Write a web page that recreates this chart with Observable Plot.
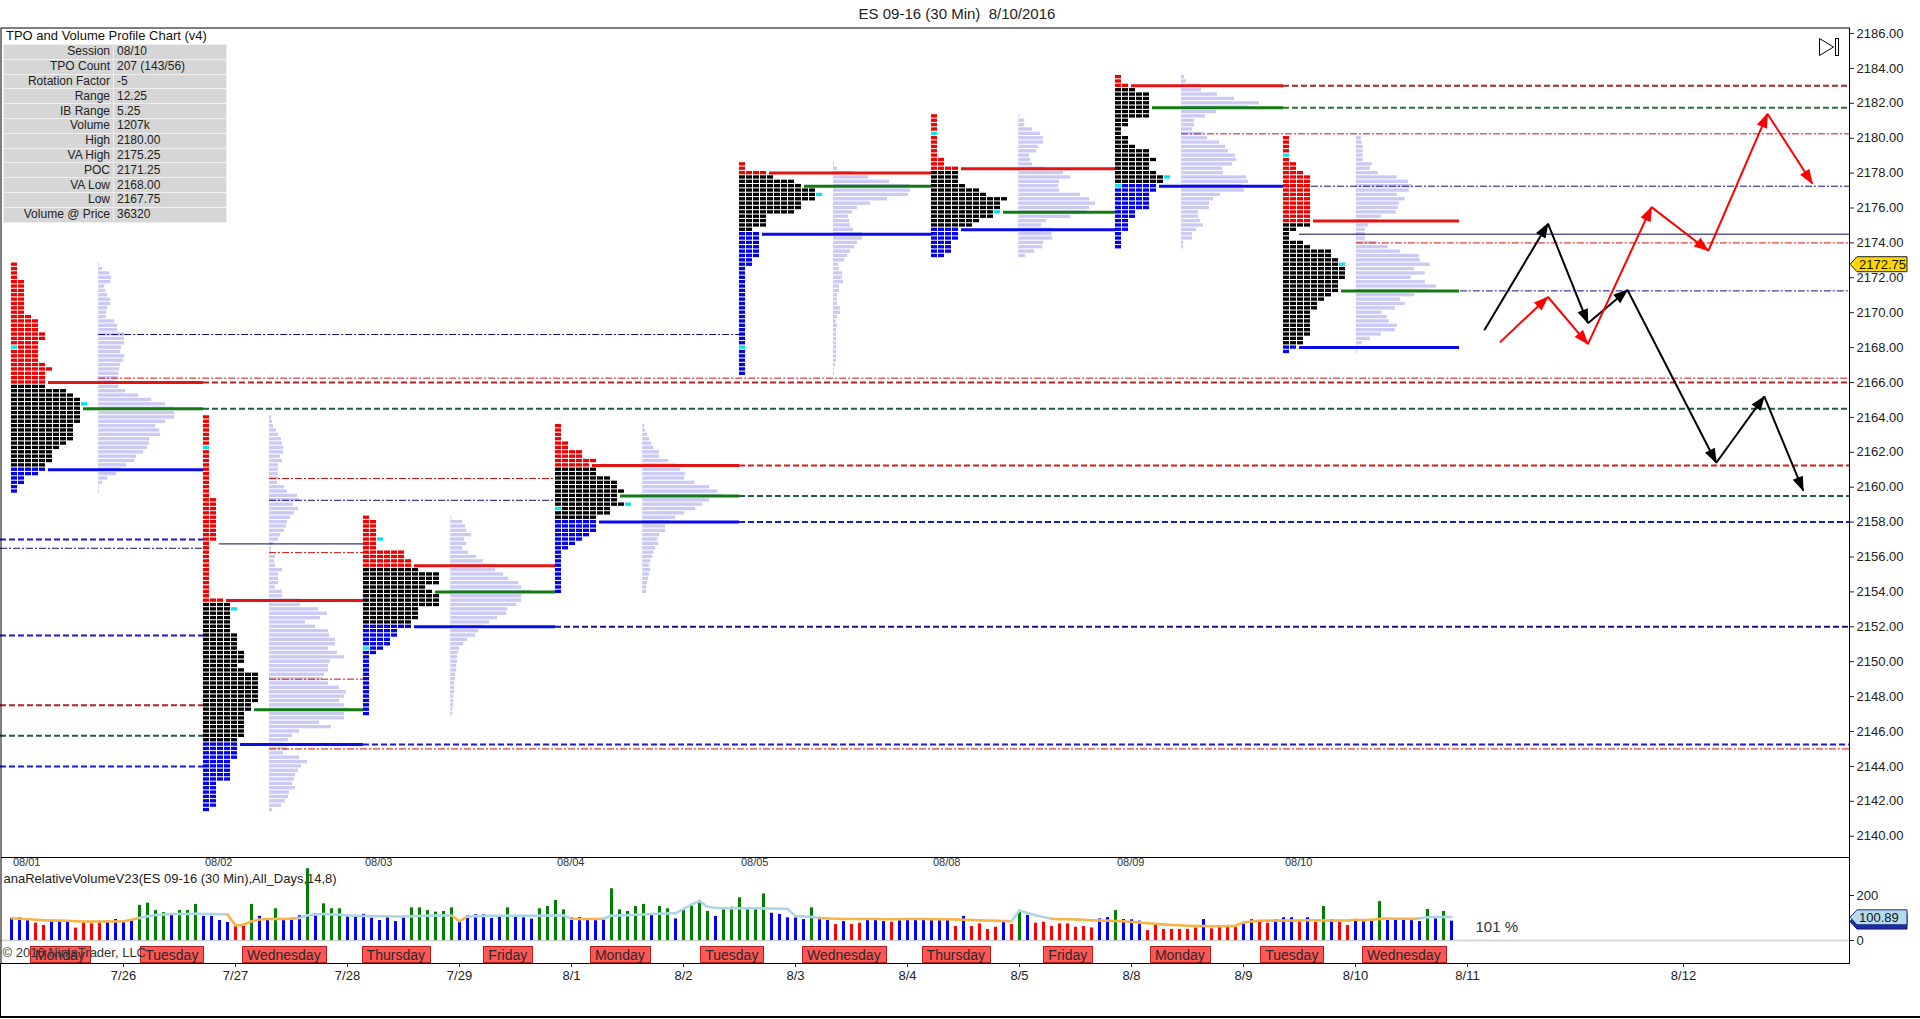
<!DOCTYPE html>
<html>
<head>
<meta charset="utf-8">
<title>ES 09-16 (30 Min) TPO and Volume Profile</title>
<script src="https://cdn.jsdelivr.net/npm/d3@7"></script>
<script src="https://cdn.jsdelivr.net/npm/@observablehq/plot@0.6"></script>
<style>
  html, body { margin: 0; padding: 0; background: #fff; }
  #wrap { position: relative; width: 1920px; height: 1019px; overflow: hidden; background: #fff;
          font-family: "Liberation Sans", Arial, sans-serif; }
  #title { position: absolute; left: 0; top: 5px; width: 1914px; text-align: center; font-size: 15px; color: #222; white-space: pre; }
  #main { position: absolute; left: 0; top: 27px; }
  #vol { position: absolute; left: 0; top: 857px; }
  #tblTitle { position: absolute; left: 6px; top: 28px; font-size: 13px; line-height: 15px; color: #111; white-space: nowrap; }
  #info { position: absolute; left: 3px; top: 44px; border-collapse: collapse; font-size: 12px; color: #222;
          background: #d6d6d6; border: 1px solid #9a9a9a; }
  #info tr { height: 14.8px; }
  #info td { padding: 0 3px; border: 1px solid #efefef; line-height: 13px; white-space: nowrap; }
  #info td.k { text-align: right; width: 103px; }
  #info td.v { text-align: left; width: 106px; }
  #leftEdge { position: absolute; left: 0; top: 963px; width: 1px; height: 55px; background: #000; }
  #bottomEdge { position: absolute; left: 0; top: 1016px; width: 1920px; height: 2px; background: #000; }
  #icon { position: absolute; left: 1817px; top: 36px; }
</style>
</head>
<body>
<div id="wrap">
  <div id="title"></div>
  <div id="main"></div>
  <div id="vol"></div>
  <div id="tblTitle"></div>
  <table id="info"></table>
  <svg id="icon" width="24" height="22"><path d="M2.5,2.5 L16.5,11 L2.5,19.5 Z" fill="none" stroke="#000"/><rect x="18.5" y="2.5" width="3" height="17" fill="none" stroke="#000"/></svg>
  <div id="leftEdge"></div>
  <div id="bottomEdge"></div>
</div>
<script>
// ======================= DATA =======================
const chartTitle = "ES 09-16 (30 Min)  8/10/2016";
const tableTitle = "TPO and Volume Profile Chart (v4)";
const tableLabels = ["Session", "TPO Count", "Rotation Factor", "Range", "IB Range", "Volume", "High", "VA High", "POC", "VA Low", "Low", "Volume @ Price"];
const tableValues = ["08/10", "207 (143/56)", "-5", "12.25", "5.25", "1207k", "2180.00", "2175.25", "2171.25", "2168.00", "2167.75", "36320"];

const priceTicks = d3.range(2140, 2186.01, 2);
const tickSize = 0.25;
const lastPrice = 2172.75;

// profile sessions (x in 30-min bar units)
const profileDates = ["08/01", "08/02", "08/03", "08/04", "08/05", "08/08", "08/09", "08/10"];
const profileStart = [0, 24, 44, 68, 91, 115, 138, 159];
const profileEnd   = [24, 44, 68, 91, 115, 138, 159, 181];
const volumeStart  = [10.9, 32.25, 54.9, 78.9, 102.75, 125.9, 146.25, 168.1];
const profileHigh  = [2172.75, 2164, 2158.25, 2163.5, 2178.5, 2181.25, 2183.5, 2180];
const vah          = [2166, 2153.5, 2155.5, 2161.25, 2178, 2178.25, 2183, 2175.25];
const poc          = [2164.5, 2147.25, 2154, 2159.5, 2177.25, 2175.75, 2181.75, 2171.25];
const val          = [2161, 2145.25, 2152, 2158, 2174.5, 2174.75, 2177.25, 2168];
const openPrice    = [2168, 2162.25, 2150.75, 2158.75, 2168, 2180.25, 2177.25, 2179];
const closePrice   = [2164.75, 2153, 2157, 2159, 2176.75, 2175.75, 2177.75, 2172.75];

// TPO letters per price row (top to bottom, 0.25 steps)
const tpo1 = [1,1,1,1, 2,2,2,2,2,2,2,2, 3, 4,4,4, 5,5, 4,4,4,4,4, 5, 6, 5,5,5,5, 8, 9, 10,10,10,10,10,10, 9,9,9,9, 8, 7, 6,6,6, 5,5, 4, 2,2, 1,1];
const tpo2 = [1,1,1,1,1,1,1,1,1,1,1,1,1,1,1,1,1,1,1, 2,2,2,2,2,2,2,2,2,2, 1,1,1,1,1,1,1,1,1,1,1,1,1, 3, 4, 4, 4,4,4,4,4, 5,5,5,5, 6,6,6, 5, 6, 8,8,8,8,8,8,8, 7,7, 6,6,6,6,6,6, 5, 5,5,5,5, 4,4,4,4,4, 2,2,2,2,2,2, 1];
const tpo3 = [1, 2,2,2,2,2,2,2, 6,6, 7,7, 8, 11,11,11, 9, 10, 11,11,11, 8,8,8, 7,7, 5,5, 4,4, 3, 2, 1,1,1,1,1,1,1,1,1,1,1,1,1,1];
const tpo4 = [1,1,1,1, 2,2, 4,4, 6, 5, 6,6, 8, 9,9, 10, 9,9, 10, 8, 8, 6, 6,6,6, 5, 4, 3, 2, 1,1,1,1,1,1,1,1,1,1];
const tpo5 = [1,1, 4, 5, 8, 9, 11, 11, 11, 9,9, 8, 4,4,4, 2, 3,3,3,3,3,3, 2,2, 1,1,1,1,1,1,1,1,1,1,1,1,1,1,1,1,1,1,1,1,1,1,1,1,1];
const tpo6 = [1,1,1,1,1,1,1,1,1,1, 2,2, 4, 4,4,4, 5, 7, 8, 11, 10,10, 9, 9, 7, 6, 4,4,4, 3,3,3, 2];
const tpo7 = [1,1, 2, 3, 5,5,5,5,5,5, 2,2, 1,1, 2,2, 3, 5,5, 6, 5,5, 6, 7, 7, 6, 6, 5,5,5,5, 3,3, 2,2,2, 1,1,1,1];
const tpo8 = [1,1,1,1,1,1, 2,2, 3, 4,4,4,4,4,4,4,4,4,4,4, 4, 2, 1,1, 3, 4, 7,7, 8, 8, 9,9,9, 8,8,8, 7, 6, 5,5, 4,4,4,4,4,4, 3,3, 2, 1];

// volume at price per row (relative units)
const vap1 = [1,4,11,13,12,6,7,9,12,12, 9,8,8,16,19,19,26,26,26,23, 22,26,25,22,21,20,19,17,20,27, 40,53,67,76,76,76,67,57,61,62, 51,51,49,45,38,36,28,22,18,9, 4,1,1];
const vap2 = [2,3,4,7,9,12,13,14,14,11, 13,9,9,9,9,8,15,18,28,30, 24,29,25,21,18,17,15,11,9,4, 2,2,6,5,6,13,9,9,9,6, 13,13,31,31,49,58,51,36,46,59, 60,66,66,59,68,75,61,59,59,55, 53,59,70,77,75,70,75,79,75,75, 50,62,30,23,19,15,18,14,30,38, 32,29,26,25,23,26,20,19,16,12, 3];
const vap3 = [1,12,15,16,21,14,16,12,18,26, 33,45,45,53,58,68,71,80,71,71, 66,57,56,47,39,33,28,25,17,13, 9,8,7,7,6,6,5,5,4,4, 4,3,3,3,2,2];
const vap4 = [2,3,5,7,9,11,17,17,26,33, 38,43,42,52,67,75,80,67,60,53, 42,33,28,23,23,17,15,16,13,11, 10,8,7,8,7,6,5,4,4];
const vap5 = [1,4,20,35,56,77,77,75,54,37, 24,19,15,16,17,20,29,29,24,21, 17,14,11,5,6,9,9,10,6,6, 4,4,4,7,7,4,3,4,3,3, 3,3,3,3,3,3,2,1,1];
const vap6 = [1,6,6,14,22,25,25,20,18,11, 12,14,27,45,52,41,40,41,62,71, 77,71,68,52,28,23,35,33,34,25, 24,16,7];
const vap7 = [3,5,19,20,36,53,78,67,35,24, 13,13,11,22,26,38,44,47,54,55, 51,41,42,65,67,60,63,39,32,28, 28,17,17,19,22,15,11,11,2,2];
const vap8 = [5,6,7,7,7,7,16,14,22,41, 52,56,53,41,49,43,42,40,25,22, 12,9,9,9,21,32,44,63,64,74, 58,69,55,69,80,73,58,44,49,39, 26,31,33,41,39,25,14,6,3,1];

// horizontal reference levels: price, from bar (null = left edge), to bar (null = right edge), kind
const dashedLevels = [2183, 2181.75, 2166, 2164.5, 2161.25, 2159.5, 2158, 2152, 2145.25, 2157, 2151.5, 2147.5, 2145.75, 2144];
const dashedFrom   = [159, 159, 24, 24, 91, 91, 91, 68, 44, null, null, null, null, null];
const dashedTo     = [null, null, null, null, null, null, null, null, null, 24, 24, 24, 24, 24];
const dashedKind   = ["vahOld", "pocG", "vahOld", "poc", "vah", "poc", "val", "valN", "val", "val", "val", "vahOld", "poc", "val"];

const dashDotLevels = [2180.25, 2177.25, 2174, 2171.25, 2168.75, 2166.25, 2160.5, 2159.25, 2156.5, 2156.25, 2149, 2145];
const dashDotFrom   = [146.25, 146.25, 168.1, 168.1, 10.9, 10.9, 32.25, 32.25, null, 32.25, 32.25, 32.25];
const dashDotTo     = [null, null, null, null, 91, null, 68, 68, 24, 44, 44, null];
const dashDotKind   = ["r", "n", "r", "n", "n", "r", "r", "n", "n", "r", "r", "r"];

const thinLevels = [2156.75, 2174.5];
const thinFrom   = [26, 161];
const thinTo     = [44, null];

// projected paths (bar, price)
const blackPath = [[184.1, 2169.0], [192.06, 2175.1], [197.05, 2169.4], [202, 2171.3], [213.1, 2161.4], [219.1, 2165.2], [223.96, 2159.8]];
const redPath   = [[186.05, 2168.3], [192.06, 2170.9], [197.05, 2168.2], [205, 2176.05], [212.1, 2173.55], [219.5, 2181.4], [225.1, 2177.4]];

// relative volume indicator, 14 bars per session
const indicatorTitle = "anaRelativeVolumeV23(ES 09-16 (30 Min),All_Days,14,8)";
const relVolDays = [
  [99,101,95,77,67,87,87,84,55,77,74,77,86,93],
  [86,87,156,166,133,124,113,133,133,160,107,107,89,80],
  [70,70,160,107,92,141,93,99,110,319,120,163,141,141],
  [107,107,116,99,89,107,84,107,145,145,133,126,129,145],
  [84,110,114,114,98,110,145,110,101,95,141,151,178,136],
  [102,102,95,95,95,230,136,129,151,160,116,151,141,96],
  [136,160,178,129,107,139,148,190,139,139,207,121,116,101],
  [101,93,145,93,89,71,84,71,77,89,89,84,81,96],
  [89,96,96,96,96,96,62,107,62,74,49,59,81,71],
  [133,111,77,81,62,74,74,59,62,56,96,102,133,93],
  [92,86,44,67,49,49,49,49,56,93,52,59,62,62],
  [81,92,81,77,93,101,101,81,101,81,151,93,81,67],
  [89,86,86,173,89,89,93,96,84,138,96,129,86]
];
const barColorDays = [
  "bbbrrbbbrrrrbb", "bbggggbgggbbbb", "rrgbbgbbbgbggg", "bbbbbbbbgggggg", "bbbbbbgbbbgggg",
  "bbbbbgggggbggb", "ggggbggggggbbb", "bbgbbrbrrbbbrb", "bbbbbbrbrrrrbr", "gbrrrrrrrrbbgb",
  "bbrrrrrrrbrrrr", "bbrrbbbrbrgbrr", "bbbgbbbbbgbgb"
];
const avgDays = [
  [99,97,95,92,90,89,89,88,86,85,84,84,84,85],
  [86,92,100,108,113,116,118,118,118,119,118,118,117,116],
  [67,70,85,93,96,96,96,97,100,112,116,118,116,114],
  [111,110,109,108,108,108,107,107,108,109,110,111,111,111],
  [86,106,108,109,110,110,110,110,110,110,110,111,111,111],
  [97,96,96,96,97,110,111,112,114,116,118,119,120,121],
  [140,160,175,150,145,143,143,143,143,143,142,142,141,141],
  [108,108,104,100,98,97,96,96,96,96,96,95,95,94],
  [96,96,96,95,95,95,93,92,91,90,89,88,87,86],
  [133,122,112,104,97,95,94,93,92,90,89,88,87,86],
  [82,80,77,74,71,69,68,66,65,64,63,63,64,65],
  [80,84,88,89,89,89,89,89,90,90,89,89,89,89],
  [92,90,92,96,98,97,97,96,99,103,104,104,104]
];
const lastRelVol = 100.89;
const prevRelVol = 82;
const relVolPctLabel = "101 %";
const dayNames = ["Monday", "Tuesday", "Wednesday", "Thursday", "Friday", "Monday", "Tuesday", "Wednesday", "Thursday", "Friday", "Monday", "Tuesday", "Wednesday"];
const dateLabels = ["7/26", "7/27", "7/28", "7/29", "8/1", "8/2", "8/3", "8/4", "8/5", "8/8", "8/9", "8/10", "8/11", "8/12"];
const dateTickBars = [14, 28, 42, 56, 70, 84, 98, 112, 126, 140, 154, 168, 182, 209];
const volTicks = [0, 200];
const copyright = "\u00a9 2016 NinjaTrader, LLC";

// ======================= LAYOUT / STYLE =======================
const W = 1920, MR = 71;
const barsPerDay = 14;
const xMin = -1.375, xMax = 229.75;
const yMin = 2138.779, yMax = 2186.344;
const vMin = -102.2, vMax = 368.9;
const colW = 0.875, sqW = 0.75, halfRow = 0.095;
const C = {red: "#f20000", black: "#000000", blue: "#0000f0", cyan: "#00e6ea", vap: "#cacaf4"};
const font = "Liberation Sans, Arial, sans-serif";

document.getElementById("title").textContent = chartTitle;
document.getElementById("tblTitle").textContent = tableTitle;
const tbl = document.getElementById("info");
tableLabels.forEach((k, i) => {
  const tr = tbl.insertRow();
  const a = tr.insertCell(); a.className = "k"; a.textContent = k;
  const b = tr.insertCell(); b.className = "v"; b.textContent = tableValues[i];
});

// ======================= BUILD MARK DATA =======================
const tpoCounts = [tpo1, tpo2, tpo3, tpo4, tpo5, tpo6, tpo7, tpo8];
const vaps = [vap1, vap2, vap3, vap4, vap5, vap6, vap7, vap8];
const eq = (a, b) => Math.abs(a - b) < 1e-6;

const tpoCells = [], volCells = [], solidSegs = [];
tpoCounts.forEach((counts, k) => {
  const L = profileStart[k];
  counts.forEach((n, r) => {
    const p = profileHigh[k] - r * tickSize;
    const base = p >= vah[k] - 1e-6 ? C.red : p <= val[k] + 1e-6 ? C.blue : C.black;
    for (let j = 0; j < n; j++) {
      const fill = (j === 0 && eq(p, openPrice[k])) ? C.cyan : base;
      tpoCells.push({x1: L + j * colW, x2: L + j * colW + sqW, y1: p - halfRow, y2: p + halfRow, fill});
    }
    if (eq(p, closePrice[k])) {
      tpoCells.push({x1: L + n * colW, x2: L + n * colW + sqW, y1: p - halfRow, y2: p + halfRow, fill: C.cyan});
    }
    const v = vaps[k][r];
    volCells.push({x1: volumeStart[k], x2: volumeStart[k] + v / 8, y1: p - halfRow, y2: p + halfRow});
  });
  [[vah[k], "#e31414"], [poc[k], "#137a13"], [val[k], "#0c0ce8"]].forEach(([level, stroke]) => {
    const r = Math.round((profileHigh[k] - level) / tickSize);
    const n = counts[r] + (eq(closePrice[k], level) ? 1 : 0);
    solidSegs.push({y: level, x1: L + n * colW + 0.25, x2: profileEnd[k], stroke});
  });
});

const dashedColor = {vahOld: "#b3222a", vah: "#dd1818", poc: "#1f5c4c", pocG: "#2e6e2e", val: "#1c1cd0", valN: "#14148c"};
const dashed = dashedLevels.map((y, i) => ({y, x1: dashedFrom[i] ?? xMin, x2: dashedTo[i] ?? xMax, stroke: dashedColor[dashedKind[i]]}));
const dashDot = dashDotLevels.map((y, i) => ({y, x1: dashDotFrom[i] ?? xMin, x2: dashDotTo[i] ?? xMax, stroke: dashDotKind[i] === "r" ? "#d01010" : "#10107a"}));
const thin = thinLevels.map((y, i) => ({y, x1: thinFrom[i] ?? xMin, x2: thinTo[i] ?? xMax}));

const toSegs = path => path.slice(1).map((q, i) => ({x1: path[i][0], y1: path[i][1], x2: q[0], y2: q[1]}));

function filledArrow(color) {
  const m = d3.create("svg:marker")
    .attr("viewBox", "-16 -7 18 14")
    .attr("markerWidth", 18).attr("markerHeight", 14)
    .attr("markerUnits", "userSpaceOnUse")
    .attr("orient", "auto")
    .attr("fill", color).attr("stroke", "none");
  m.append("path").attr("d", "M-14,-5.5L1,0L-14,5.5Z");
  return m.node();
}

function valueTag(value, text, fill, stroke) {
  return (index, scales, values, dims) => {
    const y = scales.y(value);
    const x0 = dims.width - dims.marginRight + 1;
    const h = 15, w = 57, a = 7;
    const g = d3.create("svg:g");
    g.append("path")
      .attr("d", `M${x0},${y}L${x0 + a},${y - h / 2}H${x0 + w}V${y + h / 2}H${x0 + a}Z`)
      .attr("fill", fill).attr("stroke", stroke).attr("stroke-width", 1);
    if (text) g.append("text").attr("x", x0 + a + 2).attr("y", y).attr("dy", "0.36em")
      .attr("font-size", 13).attr("font-family", font).attr("fill", "#111").attr("text-anchor", "start").text(text);
    return g.node();
  };
}

// ======================= MAIN PANEL =======================
const main = Plot.plot({
  width: W, height: 830,
  marginLeft: 0, marginRight: MR, marginTop: 0, marginBottom: 0,
  x: {domain: [xMin, xMax], axis: null},
  y: {domain: [yMin, yMax], axis: "right", ticks: priceTicks, tickFormat: d => d.toFixed(2), tickSize: 4, tickPadding: 3, label: null},
  color: {type: "identity"},
  style: {fontFamily: font, fontSize: "13px", color: "#222", background: "#fff"},
  marks: [
    Plot.rect(volCells, {x1: "x1", x2: "x2", y1: "y1", y2: "y2", fill: C.vap}),
    Plot.ruleY(dashDot, {y: "y", x1: "x1", x2: "x2", stroke: "stroke", strokeWidth: 1, strokeDasharray: "7,2,2,2"}),
    Plot.ruleY(thin, {y: "y", x1: "x1", x2: "x2", stroke: "#0a0a50", strokeWidth: 1}),
    Plot.ruleY(dashed, {y: "y", x1: "x1", x2: "x2", stroke: "stroke", strokeWidth: 2, strokeDasharray: "6,3"}),
    Plot.rect(tpoCells, {x1: "x1", x2: "x2", y1: "y1", y2: "y2", fill: "fill"}),
    Plot.ruleY(solidSegs, {y: "y", x1: "x1", x2: "x2", stroke: "stroke", strokeWidth: 3}),
    Plot.link(toSegs(blackPath), {x1: "x1", y1: "y1", x2: "x2", y2: "y2", stroke: "#000", strokeWidth: 2, markerEnd: filledArrow}),
    Plot.link(toSegs(redPath), {x1: "x1", y1: "y1", x2: "x2", y2: "y2", stroke: "#ff0000", strokeWidth: 2, markerEnd: filledArrow}),
    Plot.frame({stroke: "#000", insetLeft: 0.5, insetTop: 0.5}),
    valueTag(lastPrice, lastPrice.toFixed(2), "#ffd700", "#222")
  ]
});
document.getElementById("main").appendChild(main);

// ======================= VOLUME PANEL =======================
const volBars = [], avgPts = [];
relVolDays.forEach((day, d) => day.forEach((v, j) => {
  const i = d * barsPerDay + j;
  const c = barColorDays[d][j];
  volBars.push({i, v, c: c === "g" ? "#008000" : c === "r" ? "#ff0000" : "#0000ff"});
  avgPts.push({i, a: avgDays[d][j]});
}));
const avgSegs = avgPts.slice(1).map((q, k) => {
  const p = avgPts[k];
  return {x1: p.i, y1: p.a, x2: q.i, y2: q.a, c: (p.a + q.a) / 2 < 100 ? "#f6b446" : "#abd4e6"};
});
const labelByBar = new Map(dateTickBars.map((b, i) => [b, dateLabels[i]]));

function dayBoxes(index, scales, values, dims) {
  const g = d3.create("svg:g");
  const ctx = document.createElement("canvas").getContext("2d");
  ctx.font = "14px 'Liberation Sans', Arial";
  const yb = dims.height - dims.marginBottom;
  dayNames.forEach((name, k) => {
    const cx = scales.x(k * barsPerDay + 6.1);
    const w = Math.round(ctx.measureText(name).width + 10);
    g.append("rect").attr("x", Math.round(cx - w / 2) + 0.5).attr("y", yb - 16.5).attr("width", w).attr("height", 16)
      .attr("fill", "#ff5656").attr("stroke", "#b51c1c");
    g.append("text").attr("x", cx).attr("y", yb - 8).attr("dy", "0.36em").attr("text-anchor", "middle")
      .attr("font-size", 14).attr("font-family", font).attr("fill", "#2a2a2a").text(name);
  });
  return g.node();
}

const vol = Plot.plot({
  width: W, height: 161,
  marginLeft: 0, marginRight: MR, marginTop: 0, marginBottom: 55,
  x: {domain: [xMin, xMax], axis: "bottom", ticks: dateTickBars, tickFormat: d => labelByBar.get(d), tickSize: 4, tickPadding: 3, label: null},
  y: {domain: [vMin, vMax], axis: "right", ticks: volTicks, tickSize: 4, tickPadding: 3, label: null},
  color: {type: "identity"},
  style: {fontFamily: font, fontSize: "13px", color: "#222", background: "#fff", overflow: "hidden"},
  marks: [
    Plot.ruleY([0], {stroke: "#cdcdcd", strokeWidth: 1.5}),
    Plot.ruleX(volBars, {x: "i", y1: 0, y2: "v", stroke: "c", strokeWidth: 3}),
    Plot.link(avgSegs, {x1: "x1", y1: "y1", x2: "x2", y2: "y2", stroke: "c", strokeWidth: 2.5, strokeLinecap: "round"}),
    Plot.text(profileDates, {x: (d, i) => profileStart[i] + 1.9, frameAnchor: "top", dy: 1, fontSize: 11, fill: "#333"}),
    Plot.text([indicatorTitle], {frameAnchor: "top-left", dx: 3, dy: 16, textAnchor: "start", fontSize: 13, fill: "#222"}),
    dayBoxes,
    Plot.text([copyright], {frameAnchor: "bottom-left", dx: 2, dy: -7, textAnchor: "start", fontSize: 13, fill: "#333"}),
    Plot.text([relVolPctLabel], {x: () => volBars.length + 2, y: () => 58, textAnchor: "start", fontSize: 15, fill: "#333"}),
    valueTag(prevRelVol, null, "#1c2ea6", "#101860"),
    valueTag(lastRelVol, lastRelVol.toFixed(2), "#b2dcec", "#1c2a80"),
    Plot.frame({stroke: "#000", insetLeft: 0.5})
  ]
});
document.getElementById("vol").appendChild(vol);
</script>
</body>
</html>
